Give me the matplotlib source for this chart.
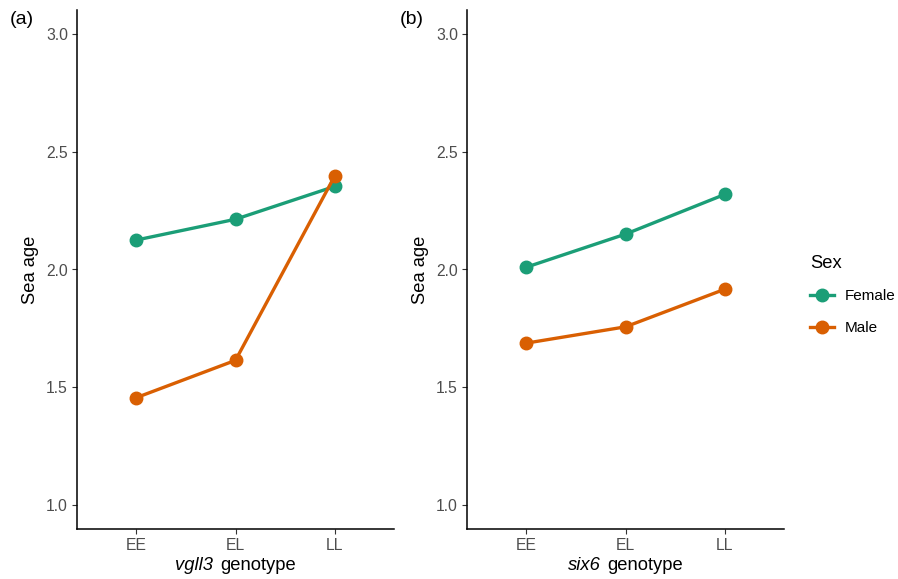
import matplotlib
matplotlib.use("Agg")
import matplotlib.pyplot as plt
from matplotlib.lines import Line2D
from matplotlib.offsetbox import TextArea, HPacker, AnchoredOffsetbox

plt.rcParams['font.family'] = ['Liberation Sans', 'DejaVu Sans']

genotypes = ["EE", "EL", "LL"]
sexes = ["Female", "Male"]
colors = {"Female": "#1B9E77", "Male": "#D95F02"}

vgll3_female = [2.125, 2.213, 2.352]
vgll3_male = [1.457, 1.615, 2.395]
six6_female = [2.010, 2.150, 2.318]
six6_male = [1.688, 1.757, 1.916]

panels = [
    ("(a)", "vgll3", {"Female": vgll3_female, "Male": vgll3_male}),
    ("(b)", "six6", {"Female": six6_female, "Male": six6_male}),
]

fig = plt.figure(figsize=(8.98, 5.79), dpi=100)
lefts = [77 / 898, 467 / 898]
width = 317 / 898
bottom = 1 - 529 / 579
height = (529 - 10) / 579

for (tag, gene, data), left in zip(panels, lefts):
    ax = fig.add_axes([left, bottom, width, height])
    x = list(range(1, len(genotypes) + 1))
    for s in sexes:
        ax.plot(x, data[s], color=colors[s], lw=2.4, marker="o", ms=9,
                solid_capstyle="butt", label=s)
    ax.set_xlim(0.4, 3.6)
    ax.set_ylim(0.9, 3.1)
    ax.set_xticks(x)
    ax.set_xticklabels(genotypes)
    ax.set_yticks([1.0, 1.5, 2.0, 2.5, 3.0])
    ax.set_yticklabels(["1.0", "1.5", "2.0", "2.5", "3.0"])
    for sp in ["top", "right"]:
        ax.spines[sp].set_visible(False)
    for sp in ["left", "bottom"]:
        ax.spines[sp].set_linewidth(1.1)
        ax.spines[sp].set_color("black")
    ax.tick_params(axis="both", colors="#333333", labelcolor="#4D4D4D",
                   labelsize=11.3, length=3.5, width=0.8, pad=3)
    ax.set_ylabel("Sea age", fontsize=13.2, labelpad=5)
    t1 = TextArea(gene, textprops=dict(fontsize=13.2, style="italic", color="black"))
    t2 = TextArea("genotype", textprops=dict(fontsize=13.2, color="black"))
    pack = HPacker(children=[t1, t2], align="baseline", pad=0, sep=5)
    ab = AnchoredOffsetbox(loc="upper center", child=pack, pad=0, borderpad=0,
                           frameon=False, bbox_to_anchor=(0.5, -0.053),
                           bbox_transform=ax.transAxes)
    ax.add_artist(ab)
    fig.text((left * 898 - 67) / 898, 1 - 20 / 579, tag, fontsize=14,
             ha="left", va="center")

handles = [Line2D([0], [0], color=colors[s], lw=2.4, marker="o", ms=9) for s in sexes]
leg = fig.legend(handles, sexes, loc="center left", bbox_to_anchor=(796 / 898, 1 - 295 / 579),
                 frameon=False, title="Sex", fontsize=11, title_fontsize=13.2,
                 handlelength=1.6, handletextpad=0.7, labelspacing=1.15, alignment="left")
fig.savefig("out.png", dpi=100)
